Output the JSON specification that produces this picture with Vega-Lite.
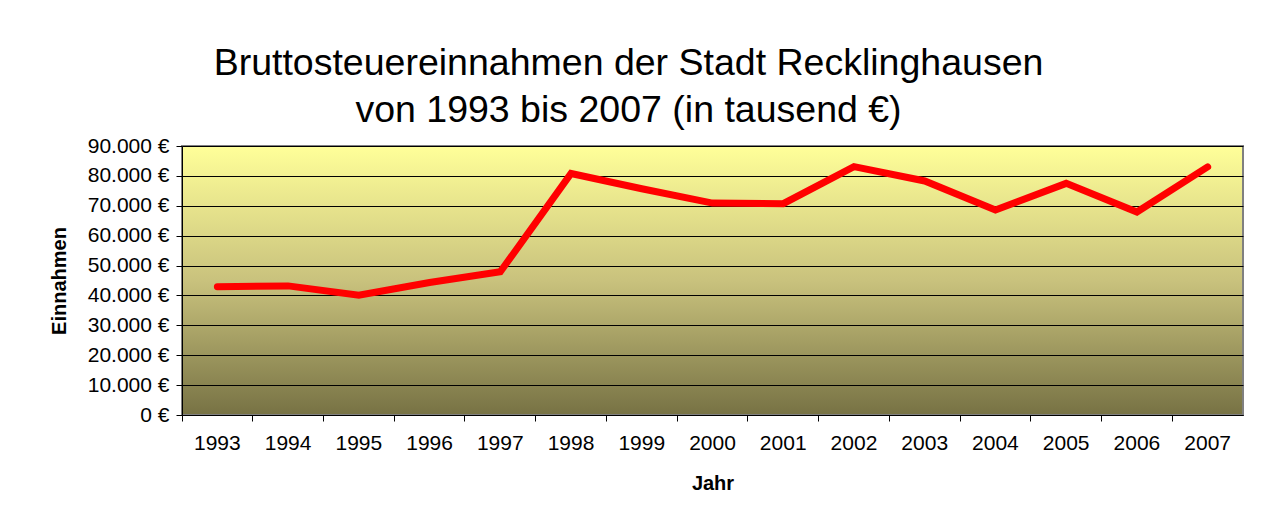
{
  "$schema": "https://vega.github.io/schema/vega-lite/v6.json",
  "width": 1061,
  "height": 269,
  "autosize": {"type": "none"},
  "padding": {"left": 182, "top": 146, "right": 20, "bottom": 116},
  "background": "white",
  "title": {
    "text": ["Bruttosteuereinnahmen der Stadt Recklinghausen", "von 1993 bis 2007 (in tausend €)"],
    "anchor": "middle",
    "frame": "group",
    "dx": -84,
    "offset": 6,
    "font": "Liberation Sans",
    "fontSize": 37.5,
    "fontWeight": "normal",
    "lineHeight": 47,
    "color": "black"
  },
  "data": {
    "values": [
      {"Jahr": "1993", "Einnahmen": 42900},
      {"Jahr": "1994", "Einnahmen": 43200},
      {"Jahr": "1995", "Einnahmen": 40100},
      {"Jahr": "1996", "Einnahmen": 44350},
      {"Jahr": "1997", "Einnahmen": 47900},
      {"Jahr": "1998", "Einnahmen": 80800},
      {"Jahr": "1999", "Einnahmen": 75700},
      {"Jahr": "2000", "Einnahmen": 70900},
      {"Jahr": "2001", "Einnahmen": 70700},
      {"Jahr": "2002", "Einnahmen": 83100},
      {"Jahr": "2003", "Einnahmen": 78300},
      {"Jahr": "2004", "Einnahmen": 68600},
      {"Jahr": "2005", "Einnahmen": 77500},
      {"Jahr": "2006", "Einnahmen": 67900},
      {"Jahr": "2007", "Einnahmen": 83000}
    ]
  },
  "mark": {"type": "line", "color": "#FF0000", "strokeWidth": 7, "strokeCap": "round", "strokeJoin": "miter"},
  "encoding": {
    "x": {
      "field": "Jahr",
      "type": "ordinal",
      "title": "Jahr",
      "scale": {"type": "band", "paddingInner": 0, "paddingOuter": 0},
      "axis": {
        "labelAngle": 0,
        "bandPosition": 0,
        "grid": false,
        "ticks": true,
        "tickSize": 6,
        "tickColor": "black",
        "domainColor": "black",
        "domainWidth": 1,
        "labelFont": "Liberation Sans",
        "labelFontSize": 21,
        "labelColor": "black",
        "labelPadding": 11,
        "titleFont": "Liberation Sans",
        "titleFontSize": 20,
        "titleFontWeight": "bold",
        "titleColor": "black",
        "titlePadding": 20
      }
    },
    "y": {
      "field": "Einnahmen",
      "type": "quantitative",
      "title": "Einnahmen",
      "scale": {"domain": [0, 90000], "nice": false},
      "axis": {
        "values": [0, 10000, 20000, 30000, 40000, 50000, 60000, 70000, 80000, 90000],
        "labelExpr": "replace(format(datum.value, ',d'), ',', '.') + ' €'",
        "grid": true,
        "gridColor": "black",
        "gridOpacity": 1,
        "gridWidth": 1,
        "tickSize": 6,
        "tickColor": "black",
        "domainColor": "black",
        "domainWidth": 1,
        "labelFont": "Liberation Sans",
        "labelFontSize": 21,
        "labelColor": "black",
        "labelPadding": 7,
        "titleFont": "Liberation Sans",
        "titleFontSize": 20,
        "titleFontWeight": "bold",
        "titleColor": "black",
        "titlePadding": 18
      }
    }
  },
  "config": {
    "view": {
      "stroke": "#808080",
      "strokeWidth": 2,
      "fill": {
        "gradient": "linear",
        "x1": 0, "y1": 0, "x2": 0, "y2": 1,
        "stops": [
          {"offset": 0, "color": "#FFFF99"},
          {"offset": 0.5, "color": "#C9C27D"},
          {"offset": 1, "color": "#777244"}
        ]
      }
    }
  }
}
